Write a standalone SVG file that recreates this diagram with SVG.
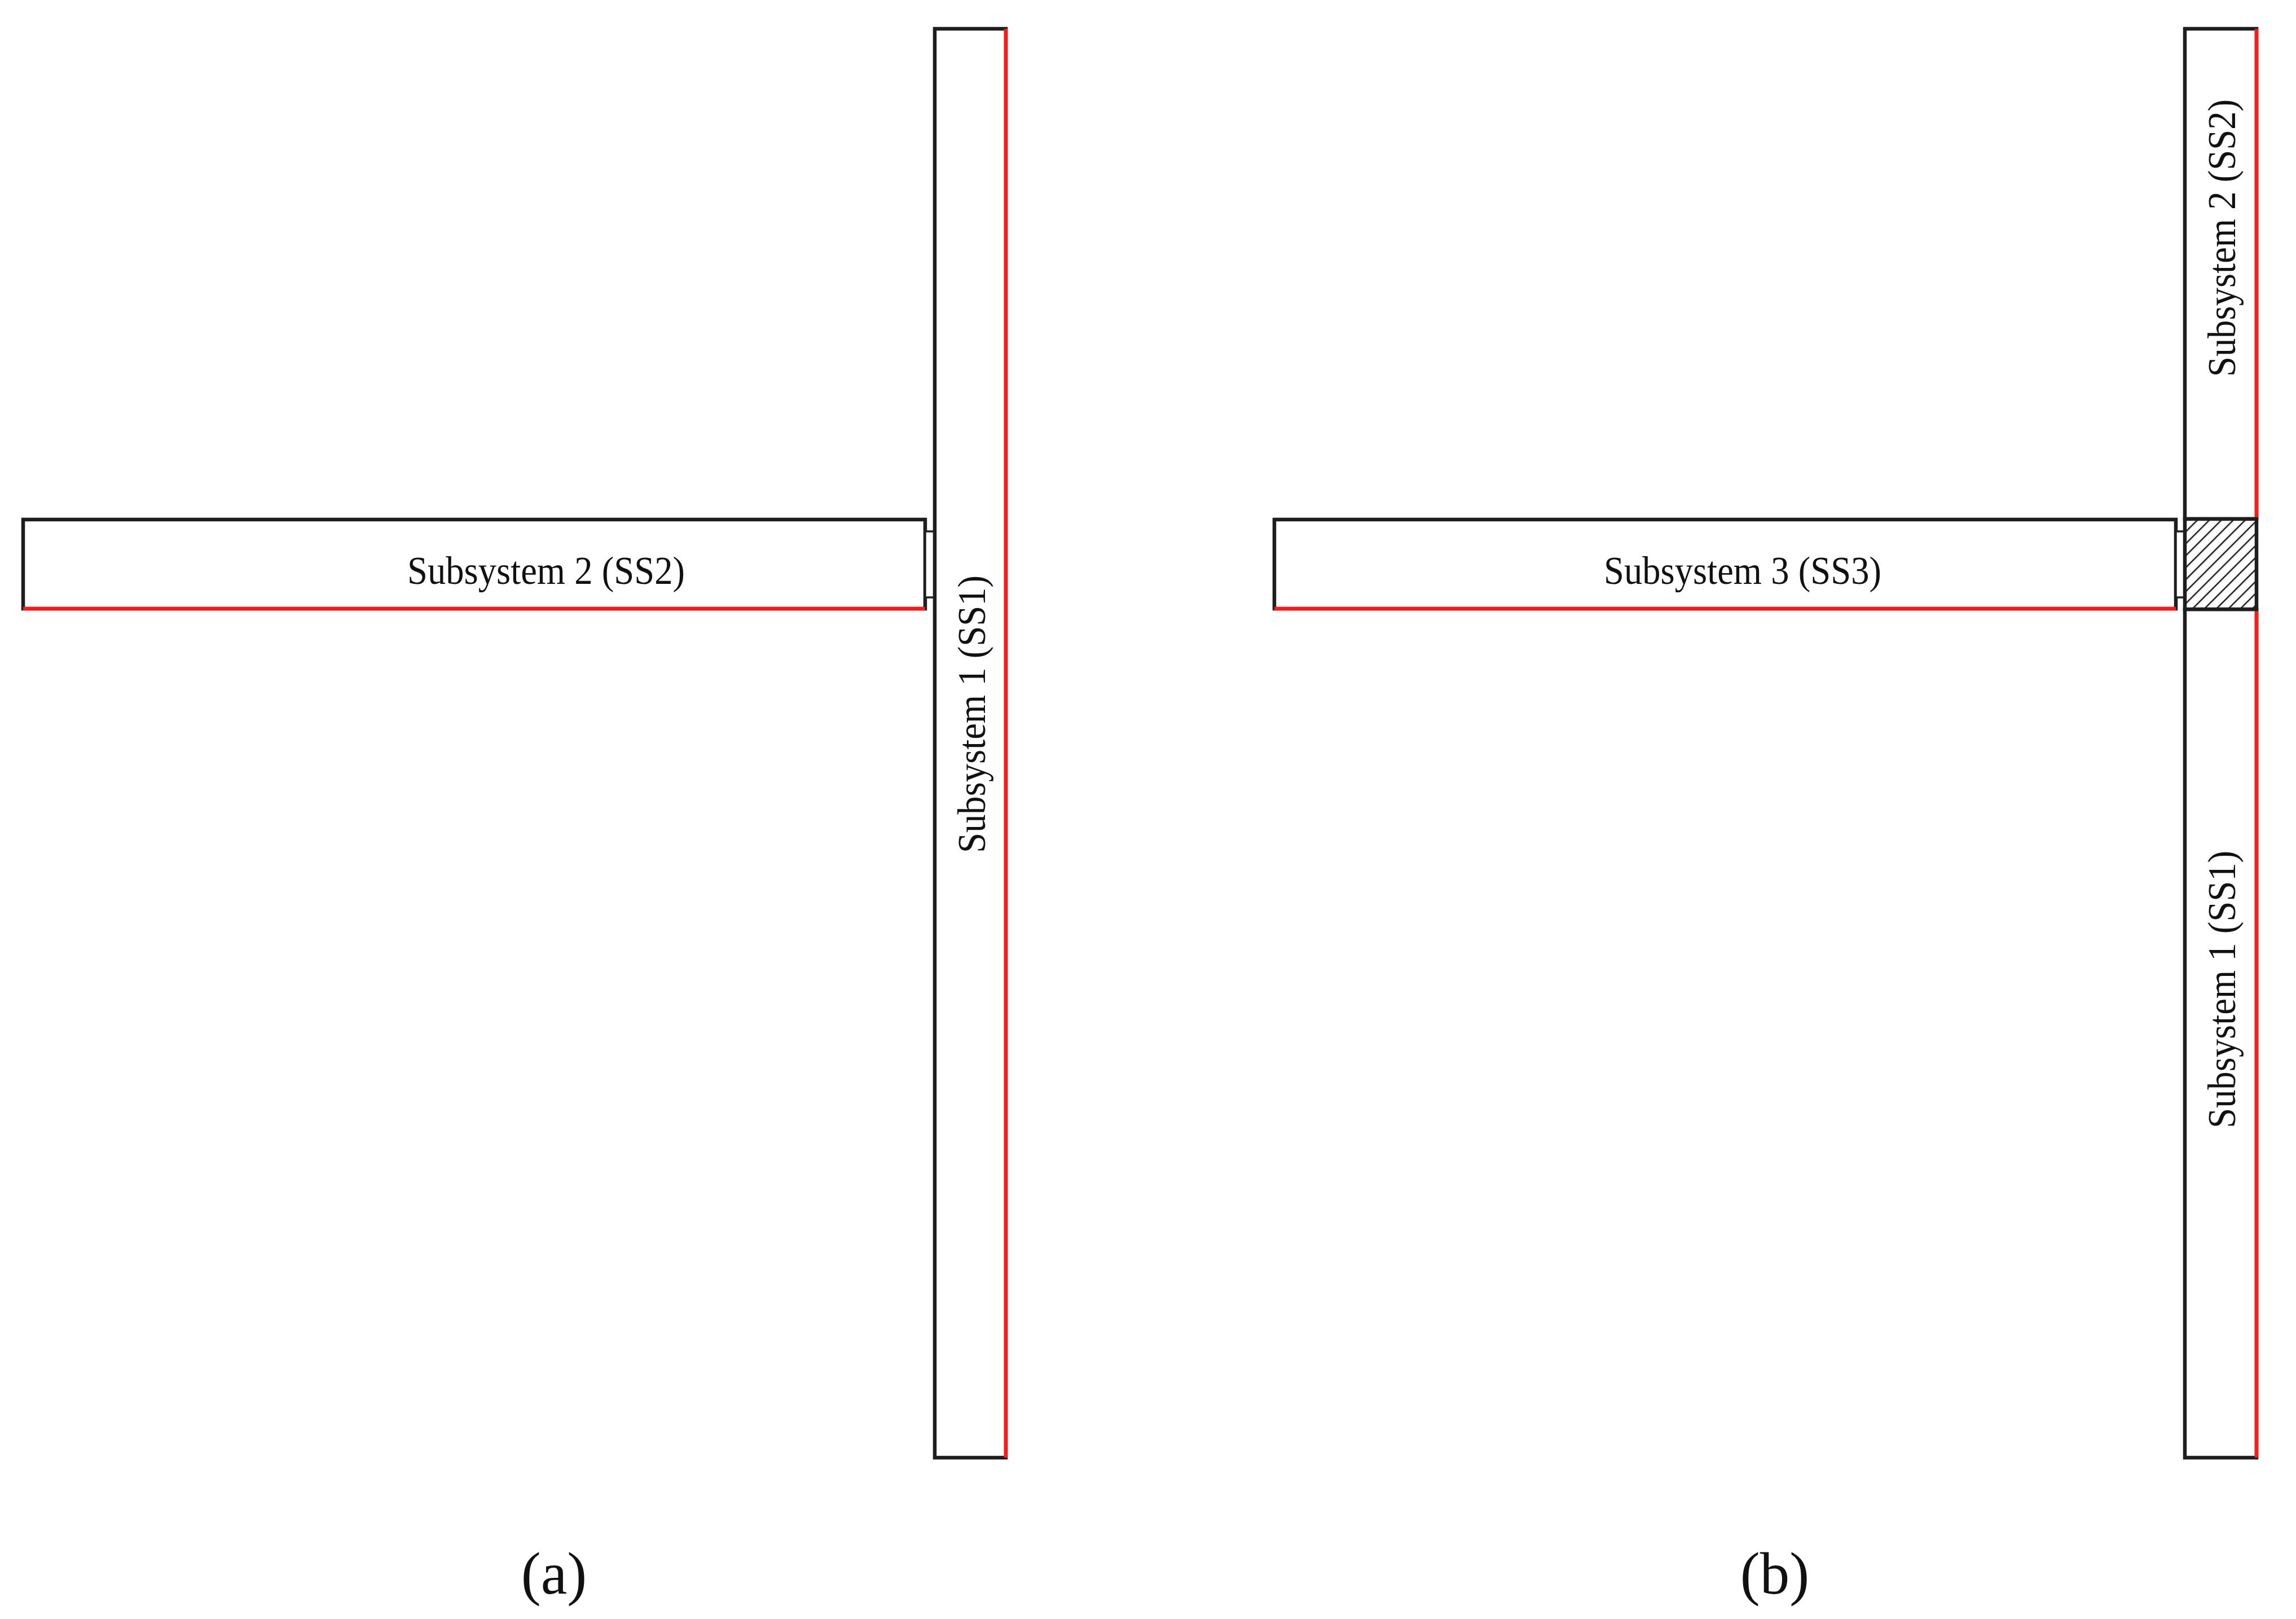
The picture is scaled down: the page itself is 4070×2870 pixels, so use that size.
<svg xmlns="http://www.w3.org/2000/svg" width="4070" height="2870" viewBox="0 0 4070 2870">
<defs>
<pattern id="hatch" patternUnits="userSpaceOnUse" width="15" height="15" patternTransform="rotate(45)">
<rect width="15" height="15" fill="#ffffff"/>
<line x1="0" y1="0" x2="0" y2="15" stroke="#1a1a1a" stroke-width="5"/>
</pattern>
</defs>
<style>
.bar{fill:#ffffff;stroke:#1e1e1e;stroke-width:6.5}
.red{stroke:#ff1a1a;stroke-width:6.5;fill:none}
.thin{fill:#ffffff;stroke:#1e1e1e;stroke-width:3.5}
.lbl{font-family:"Liberation Serif","Times New Roman",serif;font-size:70px;fill:#111111}
.cap{font-family:"Liberation Serif","Times New Roman",serif;font-size:105px;fill:#111111}
</style>
<rect width="4070" height="2870" fill="#ffffff"/>
<g id="panel-a">
<g id="a-ss2">
<rect class="bar" x="41" y="921" width="1599" height="158"/>
<line class="red" x1="41" y1="1079" x2="1640" y2="1079"/>
<text class="lbl" x="968" y="1035" text-anchor="middle" textLength="492" lengthAdjust="spacingAndGlyphs">Subsystem 2 (SS2)</text>
</g>
<g id="a-link">
<rect class="thin" x="1640" y="942" width="17" height="117"/>
</g>
<g id="a-ss1">
<rect class="bar" x="1657" y="51" width="126" height="2533"/>
<line class="red" x1="1783" y1="51" x2="1783" y2="2584"/>
<text class="lbl" transform="translate(1746,1266) rotate(-90)" text-anchor="middle" textLength="492" lengthAdjust="spacingAndGlyphs">Subsystem 1 (SS1)</text>
</g>
<text class="cap" x="982" y="2825" text-anchor="middle">(a)</text>
</g>
<g id="panel-b">
<g id="b-ss3">
<rect class="bar" x="2259" y="921" width="1598" height="158"/>
<line class="red" x1="2259" y1="1079" x2="3857" y2="1079"/>
<text class="lbl" x="3089" y="1035" text-anchor="middle" textLength="492" lengthAdjust="spacingAndGlyphs">Subsystem 3 (SS3)</text>
</g>
<g id="b-link">
<rect class="thin" x="3857" y="942" width="16" height="117"/>
</g>
<g id="b-ss2">
<rect class="bar" x="3873" y="51" width="127" height="869"/>
<line class="red" x1="4000" y1="51" x2="4000" y2="920"/>
<text class="lbl" transform="translate(3962,422) rotate(-90)" text-anchor="middle" textLength="492" lengthAdjust="spacingAndGlyphs">Subsystem 2 (SS2)</text>
</g>
<g id="b-ss1">
<rect class="bar" x="3873" y="1080" width="127" height="1504"/>
<line class="red" x1="4000" y1="1080" x2="4000" y2="2584"/>
<text class="lbl" transform="translate(3962,1754) rotate(-90)" text-anchor="middle" textLength="492" lengthAdjust="spacingAndGlyphs">Subsystem 1 (SS1)</text>
</g>
<g id="b-overlap">
<rect x="3873" y="920" width="127" height="160" fill="url(#hatch)" stroke="#1e1e1e" stroke-width="6.5"/>
</g>
<text class="cap" x="3146" y="2825" text-anchor="middle">(b)</text>
</g>
</svg>
